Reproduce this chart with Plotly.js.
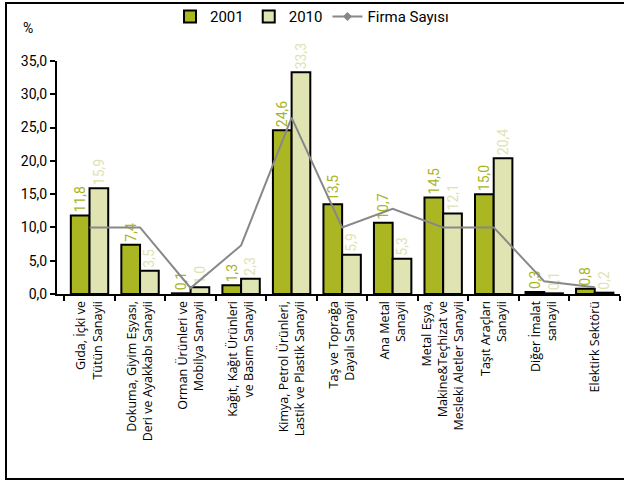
<!DOCTYPE html>
<html>
<head>
<meta charset="utf-8">
<script src="https://cdn.plot.ly/plotly-3.0.1.min.js"></script>
<style>
  html, body { margin: 0; padding: 0; background: #fff; }
  #wrap { position: relative; width: 624px; height: 480px; overflow: hidden; }
  #chart { width: 624px; height: 480px; }
  #frame { position: absolute; left: 5px; top: 2px; width: 640px; height: 474px;
           border: 2px solid #000; pointer-events: none; }
</style>
</head>
<body>
<div id="wrap">
  <div id="chart"></div>
  <div id="frame"></div>
</div>
<script>
const categories = [
  "Gıda, İçki ve<br>Tütün Sanayii",
  "Dokuma, Giyim Eşyası,<br>Deri ve Ayakkabı Sanayii",
  "Orman Ürünleri ve<br>Mobilya Sanayii",
  "Kağıt, Kağıt Ürünleri<br>ve Basım Sanayii",
  "Kimya, Petrol Ürünleri,<br>Lastik ve Plastik Sanayii",
  "Taş ve Toprağa<br>Dayalı Sanayii",
  "Ana Metal<br>Sanayii",
  "Metal Eşya,<br>Makine&amp;Teçhizat ve<br>Mesleki Aletler Sanayii",
  "Taşıt Araçları<br>Sanayii",
  "Diğer İmalat<br>sanayii",
  "Elektirk Sektörü"
];
const values2001 = [11.8, 7.4, 0.1, 1.3, 24.6, 13.5, 10.7, 14.5, 15.0, 0.3, 0.8];
const values2010 = [15.9, 3.5, 1.0, 2.3, 33.3, 5.9, 5.3, 12.1, 20.4, 0.1, 0.2];
const firmaSayisi = [10.0, 10.0, 0.9, 7.3, 26.5, 10.0, 12.8, 10.0, 10.0, 1.9, 1.0];

const fmt = v => v.toFixed(1).replace('.', ',');
const FONT = "Roboto, 'DejaVu Sans', sans-serif";
const XFONT = "'Open Sans', Roboto, sans-serif";

const traces = [
  {
    type: 'bar', name: '2001', x: categories, y: values2001,
    marker: { color: '#abb722', line: { color: '#000', width: 2 } },
    text: values2001.map(fmt), textposition: 'outside', textangle: -90,
    textfont: { color: '#a8b51e', size: 14, family: FONT },
    cliponaxis: false, constraintext: 'none'
  },
  {
    type: 'bar', name: '2010', x: categories, y: values2010,
    marker: { color: '#e0e4b3', line: { color: '#000', width: 2 } },
    text: values2010.map(fmt), textposition: 'outside', textangle: -90,
    textfont: { color: '#dfe3b3', size: 14, family: FONT },
    cliponaxis: false, constraintext: 'none'
  },
  {
    type: 'scatter', mode: 'lines', name: 'Firma Sayısı', x: categories, y: firmaSayisi,
    line: { color: '#888888', width: 2 }, showlegend: false, cliponaxis: false
  },
  {
    type: 'scatter', mode: 'lines+markers', name: 'Firma Sayısı', x: [categories[0]], y: [null],
    line: { color: '#888888', width: 2 },
    marker: { symbol: 'diamond', size: 7, color: '#888888' }
  }
];

const layout = {
  width: 624, height: 480,
  margin: { l: 57, r: 4, t: 61, b: 186, autoexpand: false },
  paper_bgcolor: '#fff', plot_bgcolor: '#fff',
  font: { family: FONT, color: '#000', size: 13 },
  separators: ', ',
  barmode: 'group', bargap: 0.26, bargroupgap: 0,
  showlegend: true,
  legend: {
    orientation: 'h', x: 0.5, xref: 'container', xanchor: 'center',
    y: 0.965, yref: 'container', yanchor: 'middle',
    font: { size: 15, family: FONT }, itemwidth: 30, tracegroupgap: 0,
    bgcolor: 'rgba(0,0,0,0)'
  },
  xaxis: {
    type: 'category', tickson: 'boundaries', ticks: 'outside', ticklen: 5,
    tickwidth: 2, tickcolor: '#000', showline: true, linecolor: '#000', linewidth: 2,
    tickangle: -90, tickfont: { size: 12.5, family: XFONT }, showgrid: false,
    automargin: false
  },
  yaxis: {
    range: [0, 35], dtick: 5, tickformat: '.1f', ticks: 'outside', ticklen: 5,
    tickwidth: 2, tickcolor: '#000', showline: true, linecolor: '#000', linewidth: 2,
    showgrid: false, zeroline: false, tickfont: { size: 14, family: FONT },
    automargin: false
  },
  annotations: [
    { text: '%', xref: 'paper', yref: 'paper', x: -0.0515, y: 1.14,
      xanchor: 'center', yanchor: 'middle',
      showarrow: false, font: { size: 14, family: FONT } }
  ]
};

Plotly.newPlot('chart', traces, layout, { displayModeBar: false, staticPlot: true });
</script>
</body>
</html>
